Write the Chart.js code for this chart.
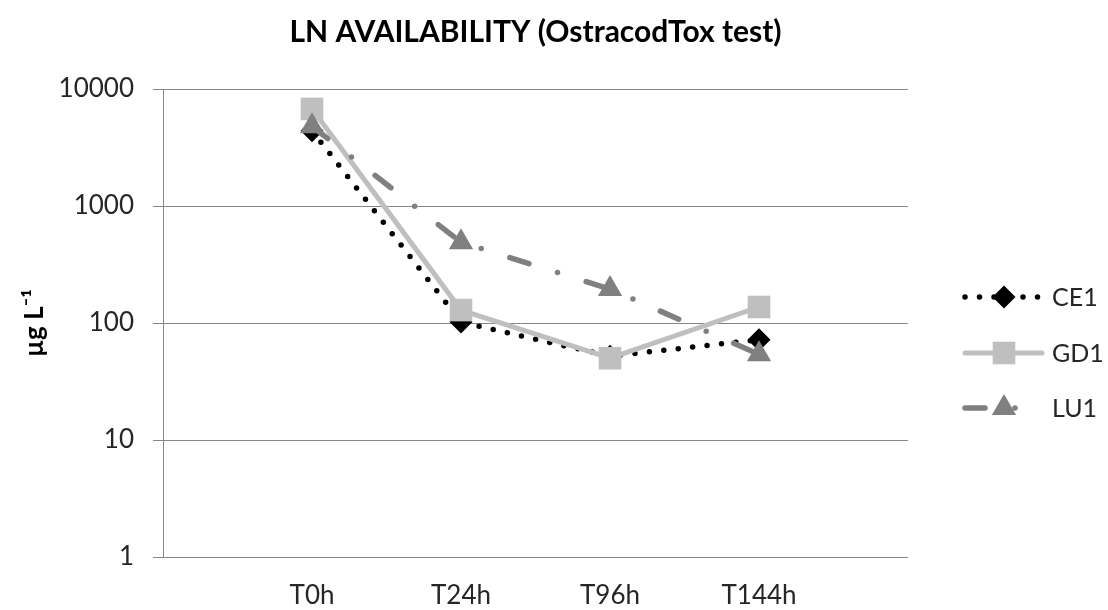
<!DOCTYPE html>
<html>
<head>
<meta charset="utf-8">
<script src="https://cdn.jsdelivr.net/npm/chart.js@4.4.1/dist/chart.umd.min.js"></script>
<style>
  html, body { margin: 0; padding: 0; background: #ffffff; }
  #wrap { width: 1108px; height: 610px; }
</style>
</head>
<body>
<div id="wrap"><canvas id="c" width="1108" height="610"></canvas></div>
<script>
const categories = ['', 'T0h', 'T24h', 'T96h', 'T144h', ''];
const seriesNames = ['CE1', 'GD1', 'LU1'];
const ce1 = [null, 4400, 102, 52, 72, null];
const gd1 = [null, 6750, 129, 50, 137, null];
const lu1 = [null, 4800, 490, 195, 54, null];
const yTicks = [1, 10, 100, 1000, 10000];
const titleText = 'LN AVAILABILITY (OstracodTox test)';
const yTitleText = 'µg L⁻¹';

const FONT = 'Lato, "Open Sans", sans-serif';
const TXT = '#262626';
const GRID = '#868686';

const legendPlugin = {
  id: 'sideLegend',
  afterDraw(chart) {
    const ctx = chart.ctx;
    const rows = [297, 353, 408];
    const x0 = 965, x1 = 1042, xm = 1004, tx = 1052;
    chart.data.datasets.forEach((ds, i) => {
      const y = rows[i];
      ctx.save();
      ctx.beginPath();
      ctx.strokeStyle = ds.borderColor;
      ctx.lineWidth = ds.borderWidth;
      ctx.lineCap = ds.borderCapStyle || 'butt';
      ctx.setLineDash(ds.borderDash || []);
      ctx.moveTo(x0, y);
      ctx.lineTo(x1, y);
      ctx.stroke();
      ctx.setLineDash([]);
      ctx.fillStyle = ds.pointBackgroundColor;
      ctx.strokeStyle = ds.pointBorderColor;
      Chart.helpers.drawPoint(ctx, {
        pointStyle: ds.pointStyle,
        radius: ds.pointRadius,
        rotation: 0,
        borderWidth: ds.pointBorderWidth
      }, xm, y);
      ctx.fillStyle = TXT;
      ctx.font = '25px ' + FONT;
      ctx.textAlign = 'left';
      ctx.textBaseline = 'middle';
      ctx.fillText(ds.label, tx, y + 1);
      ctx.restore();
    });
  }
};

new Chart(document.getElementById('c'), {
  type: 'line',
  data: {
    labels: categories,
    datasets: [
      {
        label: seriesNames[0], data: ce1, order: 3,
        borderColor: '#000000', borderWidth: 5.5, borderDash: [0, 14.5], borderCapStyle: 'round',
        pointStyle: 'rectRot', pointRadius: 11.5, pointBackgroundColor: '#000000',
        pointBorderColor: '#000000', pointBorderWidth: 0, tension: 0
      },
      {
        label: seriesNames[1], data: gd1, order: 2,
        borderColor: '#BFBFBF', borderWidth: 5, borderDash: [], borderCapStyle: 'round',
        pointStyle: 'rect', pointRadius: 16, pointBackgroundColor: '#BFBFBF',
        pointBorderColor: '#BFBFBF', pointBorderWidth: 0, tension: 0
      },
      {
        label: seriesNames[2], data: lu1, order: 1,
        borderColor: '#808080', borderWidth: 5.5, borderDash: [20, 30, 0, 30], borderCapStyle: 'round',
        pointStyle: 'triangle', pointRadius: 14, pointBackgroundColor: '#808080',
        pointBorderColor: '#808080', pointBorderWidth: 0, tension: 0
      }
    ]
  },
  options: {
    responsive: false,
    animation: false,
    events: [],
    layout: { padding: { left: 0, right: 200, top: 0, bottom: 0 } },
    plugins: {
      legend: { display: false },
      tooltip: { enabled: false },
      title: {
        display: true, text: titleText, fullSize: false,
        color: '#000000',
        font: { family: FONT, size: 30, weight: 'bold', lineHeight: 1.2 },
        padding: { top: 14, bottom: 89 - 14 - 30 * 1.2 }
      }
    },
    scales: {
      x: {
        type: 'category',
        offset: false,
        grid: { display: false },
        border: { display: false },
        ticks: {
          color: TXT, autoSkip: false, maxRotation: 0, padding: 15,
          font: { family: FONT, size: 26 }
        },
        afterFit(scale) { scale.height = 53; }
      },
      y: {
        type: 'logarithmic',
        min: 1, max: 10000,
        grid: { color: GRID, lineWidth: 1, tickLength: 10, drawTicks: true },
        border: { display: true, color: GRID, width: 1 },
        afterBuildTicks(scale) { scale.ticks = yTicks.map(v => ({ value: v, major: false })); },
        ticks: {
          color: TXT, autoSkip: false, padding: 19,
          font: { family: FONT, size: 26 },
          callback: (v) => String(v)
        },
        title: {
          display: true, text: yTitleText, color: '#000000',
          font: { family: FONT, size: 26, weight: 'bold', lineHeight: 1.2 },
          padding: { top: 19, bottom: 0 }
        },
        afterFit(scale) { scale.width = 163; }
      }
    }
  },
  plugins: [legendPlugin]
});
</script>
</body>
</html>
